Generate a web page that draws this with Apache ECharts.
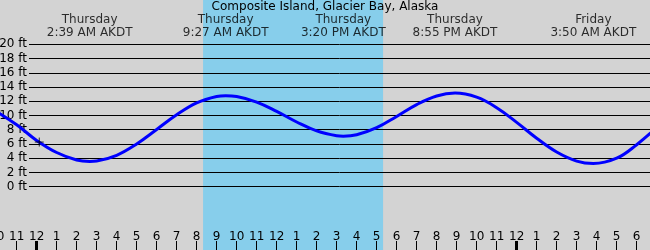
<!DOCTYPE html>
<html>
<head>
<meta charset="utf-8">
<script src="https://cdn.jsdelivr.net/npm/echarts@6/dist/echarts.min.js"></script>
<style>html,body{margin:0;padding:0;background:#d3d3d3}#c{width:650px;height:250px}</style>
</head>
<body>
<div id="c"></div>
<script>
// Tide heights (ft) at hours since Thursday midnight (AKDT)
const tideHours = [-2, -1, 0, 1, 2, 2.65, 3, 4, 5, 6, 7, 8, 9, 9.45, 10, 11, 12, 13, 14, 15, 15.33, 16, 17, 18, 19, 20, 20.92, 22, 23, 24, 25, 26, 27, 27.83, 29, 30, 31];
const tideFeet  = [10.55, 8.7, 6.5, 4.8, 3.75, 3.55, 3.61, 4.41, 6.0, 8.04, 10.1, 11.77, 12.67, 12.78, 12.67, 11.89, 10.58, 9.09, 7.83, 7.16, 7.1, 7.29, 8.29, 9.87, 11.53, 12.74, 13.15, 12.57, 11.1, 9.04, 6.81, 4.87, 3.6, 3.25, 4.0, 5.9, 8.3];
// High/low events
const eventHours = [2.65, 9.45, 15.333, 20.917, 27.833];
const eventDays  = ['Thursday', 'Thursday', 'Thursday', 'Thursday', 'Friday'];
const eventTimes = ['2:39 AM AKDT', '9:27 AM AKDT', '3:20 PM AKDT', '8:55 PM AKDT', '3:50 AM AKDT'];
// Daylight
const sunriseHour = 8.32;
const sunsetHour = 17.32;
// Current time marker
const nowHour = 0.13;
const nowFeet = 6.27;
// Axis ranges / ticks
const hourMin = -2, hourMax = 31;
const midnightHours = [0, 24];
const feetMin = 0, feetMax = 20, feetStep = 2;
const titleText = 'Composite Island, Glacier Bay, Alaska';

const FONT = 'DejaVu Sans';
const chart = echarts.init(document.getElementById('c'), null, {renderer: 'canvas'});
const gl = -3.333, gr = -6.667;
const hourLabel = v => { const m = ((Math.round(v) % 12) + 12) % 12; return m === 0 ? '12' : String(m); };

chart.setOption({
  backgroundColor: '#d3d3d3',
  animation: false,
  textStyle: {fontFamily: FONT, color: '#000'},
  title: {
    text: titleText, left: 'center', top: 1, padding: 0,
    textStyle: {fontFamily: FONT, fontSize: 12, fontWeight: 'normal', color: '#000'}
  },
  grid: [
    {left: gl, right: gr, top: 44.3, bottom: 63.3, outerBoundsMode: 'none', containLabel: false},  // curve
    {left: 29, right: 0, top: 44.3, bottom: 63.3, outerBoundsMode: 'none', containLabel: false},   // ft lines
    {left: gl, right: gr, top: 0, bottom: 0, outerBoundsMode: 'none', containLabel: false}         // band + hour axis
  ],
  xAxis: [
    {gridIndex: 0, type: 'value', min: hourMin, max: hourMax, show: false},
    {gridIndex: 1, type: 'value', min: 0, max: 1, show: false},
    {gridIndex: 2, type: 'value', min: hourMin, max: hourMax, interval: 1, position: 'bottom',
      axisLine: {show: false}, splitLine: {show: false},
      axisTick: {show: true, inside: true, length: 9, lineStyle: {color: '#000', width: 1}},
      axisLabel: {show: true, inside: true, margin: 7, formatter: hourLabel,
        fontFamily: FONT, fontSize: 12, color: '#000'}, z: 4},
    {gridIndex: 2, type: 'value', min: hourMin, max: hourMax, position: 'bottom',
      axisLine: {show: false}, splitLine: {show: false}, axisLabel: {show: false},
      axisTick: {show: true, inside: true, length: 9, customValues: midnightHours,
        lineStyle: {color: '#000', width: 3}}, z: 4}
  ],
  yAxis: [
    {gridIndex: 0, type: 'value', min: feetMin, max: feetMax, show: false},
    {gridIndex: 1, type: 'value', min: feetMin, max: feetMax, interval: feetStep, z: 3,
      axisLine: {show: false}, axisTick: {show: false},
      splitLine: {show: true, lineStyle: {color: '#000', width: 1}},
      axisLabel: {show: true, margin: 2, formatter: '{value} ft', fontFamily: FONT, fontSize: 12, color: '#000'}},
    {gridIndex: 2, type: 'value', min: 0, max: 1, show: false}
  ],
  series: [
    {type: 'line', xAxisIndex: 2, yAxisIndex: 2, data: [[hourMin, 0]], symbol: 'none',
      lineStyle: {opacity: 0}, z: 1, silent: true,
      markArea: {silent: true, itemStyle: {color: '#87ceeb'},
        data: [[{xAxis: sunriseHour}, {xAxis: sunsetHour}]]}},
    {type: 'line', xAxisIndex: 0, yAxisIndex: 0, z: 10,
      data: tideHours.map((h, i) => [h, tideFeet[i]]),
      smooth: 0.4, symbol: 'none', clip: false,
      lineStyle: {color: '#0000ff', width: 3}},
    {type: 'scatter', xAxisIndex: 0, yAxisIndex: 0, z: 11,
      data: [[nowHour, nowFeet]], symbol: 'path://M0,5L10,5M5,0L5,10', symbolSize: 9,
      itemStyle: {color: 'rgba(0,0,0,0)', borderColor: '#000', borderWidth: 1}},
    {type: 'scatter', xAxisIndex: 0, yAxisIndex: 0, z: 11, clip: false,
      data: eventHours.map((h, i) => [h, feetMax]), symbolSize: 0,
      label: {show: true, position: 'top', distance: 5,
        formatter: p => eventDays[p.dataIndex] + '\n' + eventTimes[p.dataIndex],
        fontFamily: FONT, fontSize: 12, lineHeight: 13, color: '#000', align: 'center'}}
  ]
});
</script>
</body>
</html>
